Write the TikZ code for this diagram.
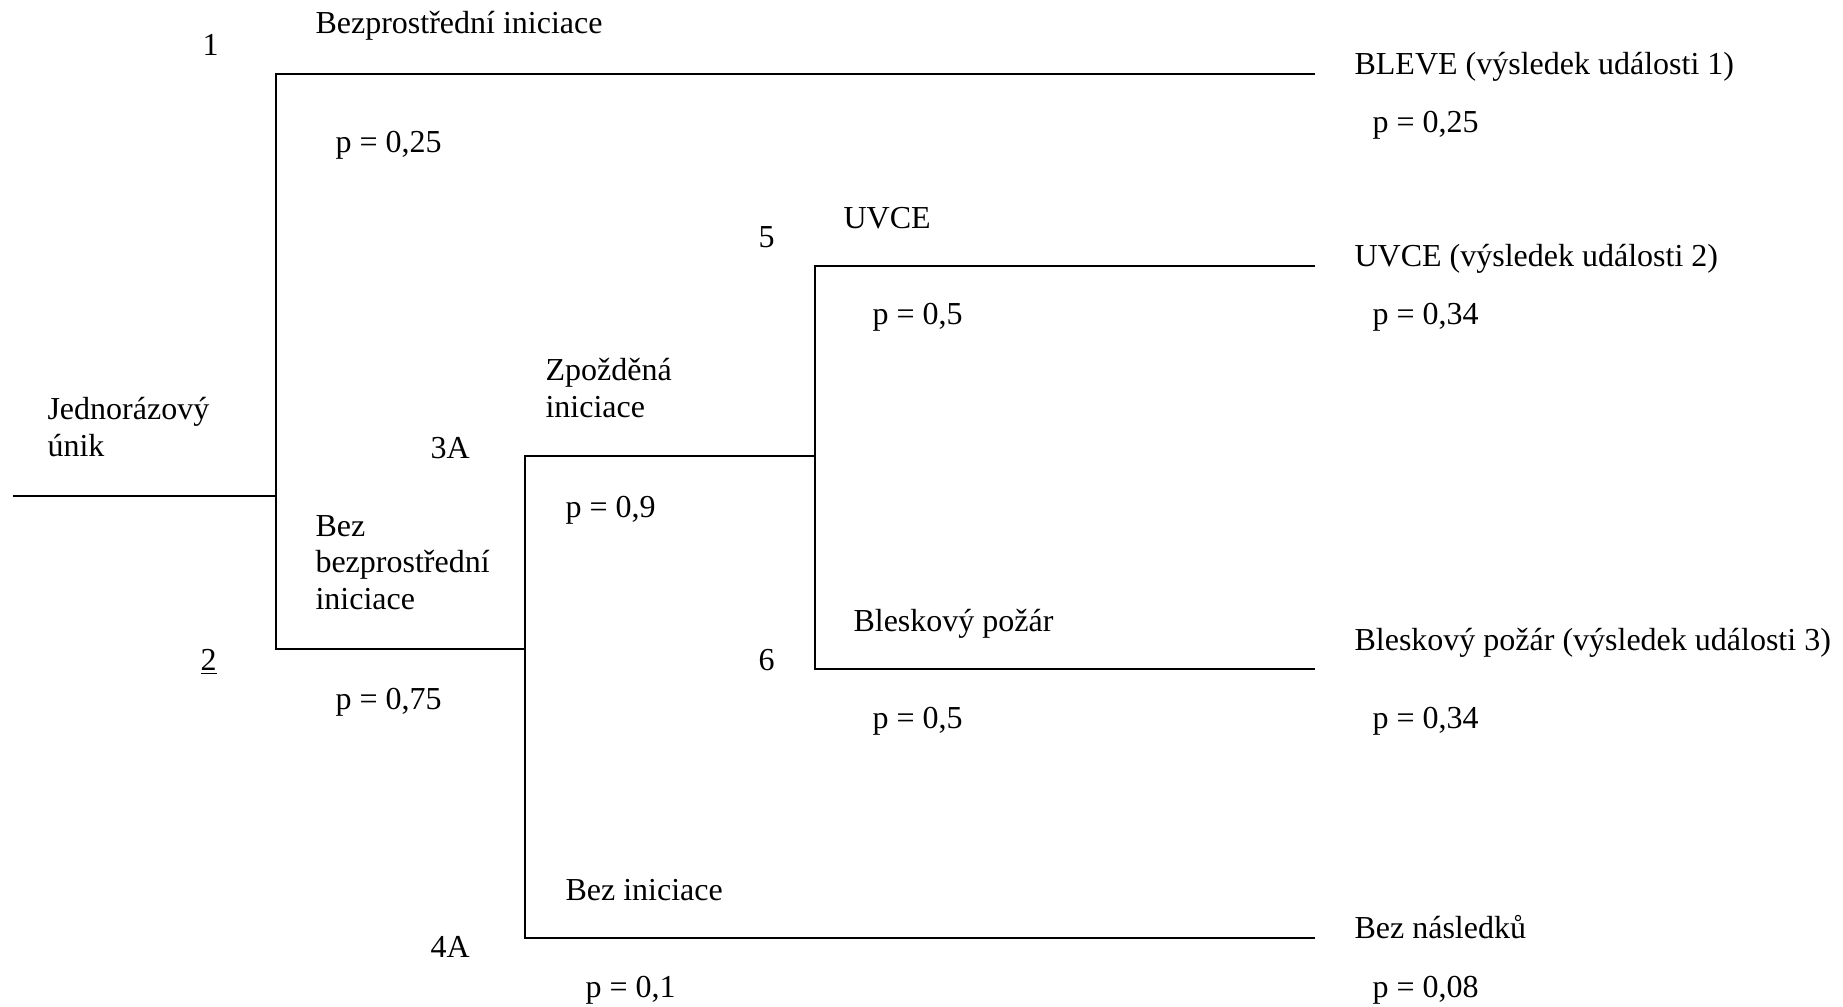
\documentclass[tikz,border=0pt]{standalone}
\usepackage{fontspec}
\setmainfont{Liberation Serif}
\begin{document}
\begin{tikzpicture}[x=0.375pt,y=-0.375pt,
  branch/.style={line width=0.8pt,line cap=rect},
  lbl/.style={anchor=base west,inner sep=0pt,align=left,font=\fontsize{12pt}{13.6pt}\selectfont}]
\useasboundingbox (0,0) rectangle (1843,1006);
% tree points
\coordinate (s)  at (14,496);
\coordinate (a)  at (276,496);
\coordinate (a1) at (276,74);
\coordinate (a2) at (276,649);
\coordinate (e1) at (1314,74);
\coordinate (b)  at (525,649);
\coordinate (b1) at (525,456);
\coordinate (b2) at (525,938);
\coordinate (c)  at (815,456);
\coordinate (c1) at (815,266);
\coordinate (c2) at (815,669);
\coordinate (e2) at (1314,266);
\coordinate (e3) at (1314,669);
\coordinate (e4) at (1314,938);
% branches
\draw[branch] (s) -- (a);
\draw[branch] (a1) -- (a2);
\draw[branch] (a1) -- (e1);
\draw[branch] (a2) -- (b);
\draw[branch] (b1) -- (b2);
\draw[branch] (b1) -- (c);
\draw[branch] (c1) -- (c2);
\draw[branch] (c1) -- (e2);
\draw[branch] (c2) -- (e3);
\draw[branch] (b2) -- (e4);
% labels (multi-line nodes are placed by the baseline of their last line)
\node[lbl] (n1) at (202,56) {1};
\node[lbl] (t1) at (315,34) {Bezprostřední iniciace};
\node[lbl] (p1) at (335,153) {p = 0,25};
\node[lbl] (r1) at (1354,75) {BLEVE (výsledek události 1)};
\node[lbl] (rp1) at (1372,133) {p = 0,25};
\node[lbl] (n5) at (758,247) {5};
\node[lbl] (t5) at (843,228) {UVCE};
\node[lbl] (r2) at (1354,266) {UVCE (výsledek události 2)};
\node[lbl] (rp2) at (1372,324) {p = 0,34};
\node[lbl] (p5) at (872,324) {p = 0,5};
\node[lbl] (t3) at (545,417) {Zpožděná\\iniciace};
\node[lbl] (t0) at (47,456) {Jednorázový\\únik};
\node[lbl] (n3) at (430,458) {3A};
\node[lbl] (p3) at (565,517) {p = 0,9};
\node[lbl] (t2) at (315,609) {Bez\\bezprostřední\\iniciace};
\node[lbl] (t6) at (853,631) {Bleskový požár};
\node[lbl] (r3) at (1354,650) {Bleskový požár (výsledek události 3)};
\node[lbl] (n2) at (200,670) {\underline{2}};
\node[lbl] (n6) at (758,670) {6};
\node[lbl] (p2) at (335,709) {p = 0,75};
\node[lbl] (p6) at (872,728) {p = 0,5};
\node[lbl] (rp3) at (1372,728) {p = 0,34};
\node[lbl] (t4) at (565,900) {Bez iniciace};
\node[lbl] (n4) at (430,957) {4A};
\node[lbl] (r4) at (1354,938) {Bez následků};
\node[lbl] (p4) at (585,997) {p = 0,1};
\node[lbl] (rp4) at (1372,997) {p = 0,08};
\end{tikzpicture}
\end{document}
